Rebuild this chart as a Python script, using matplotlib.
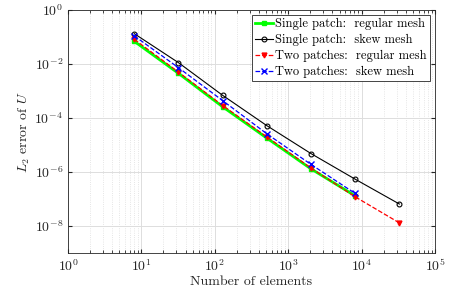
import matplotlib
matplotlib.use('Agg')
import matplotlib.pyplot as plt
import numpy as np

plt.rcParams['mathtext.fontset'] = 'cm'
plt.rcParams['font.family'] = ['cmr10', 'DejaVu Serif']
plt.rcParams['axes.formatter.use_mathtext'] = True

n_elem = [8, 32, 128, 512, 2048, 8192]
n_elem_fine = [8, 32, 128, 512, 2048, 8192, 32768]

single_regular = [0.069, 4.5e-3, 2.6e-4, 1.8e-5, 1.3e-6, 1.3e-7]
single_skew = [0.133, 0.0112, 6.9e-4, 5.2e-5, 4.8e-6, 5.4e-7, 6.5e-8]
two_regular = [0.082, 5.0e-3, 2.9e-4, 2.0e-5, 1.4e-6, 1.2e-7, 1.3e-8]
two_skew = [0.11, 7.3e-3, 4.4e-4, 2.6e-5, 1.9e-6, 1.6e-7]

fig = plt.figure(figsize=(4.49, 3.0), dpi=100)
ax = fig.add_axes([68/449, 1 - 253/300, (435-68)/449, (253-10)/300])

ax.loglog(n_elem, single_regular, '-s', color=(0, 1, 0), lw=2, ms=3,
          label='Single patch:  regular mesh')
ax.loglog(n_elem_fine, single_skew, '-o', color='k', lw=0.8, ms=3.5, mfc='none', mew=0.8,
          label='Single patch:  skew mesh')
ax.loglog(n_elem_fine, two_regular, '--v', color='r', lw=0.9, ms=3.5,
          label='Two patches:  regular mesh')
ax.loglog(n_elem, two_skew, '--x', color='b', lw=0.9, ms=5, mew=1,
          label='Two patches:  skew mesh')

ax.set_xlim(1, 1e5)
ax.set_ylim(1e-9, 1)
ax.set_yticks([1e0, 1e-2, 1e-4, 1e-6, 1e-8])
ax.set_xticks([1e0, 1e1, 1e2, 1e3, 1e4, 1e5])
ax.yaxis.set_minor_locator(matplotlib.ticker.NullLocator())

ax.grid(True, which='major', color='#dddddd', lw=0.7)
ax.grid(True, which='minor', axis='x', color='#dddddd', lw=0.6, ls=':')
ax.set_axisbelow(True)
ax.tick_params(which='both', direction='in', top=True, right=True, labelsize=10,
               colors='#262626', length=3)
ax.tick_params(which='minor', length=2)
for s in ax.spines.values():
    s.set_color('#262626')
    s.set_linewidth(0.6)

ax.set_xlabel('Number of elements', fontsize=10, color='#262626', labelpad=1)
ax.set_ylabel(r'$L_2$ error of $U$', fontsize=10, color='#262626', labelpad=2)

leg = ax.legend(loc='upper right', fontsize=9, frameon=True, fancybox=False,
                edgecolor='#262626', framealpha=1, borderaxespad=0.4,
                handlelength=1.4, handletextpad=0.2, borderpad=0.25, labelspacing=0.3)
leg.get_frame().set_linewidth(0.6)

fig.savefig('out.png', dpi=100)
